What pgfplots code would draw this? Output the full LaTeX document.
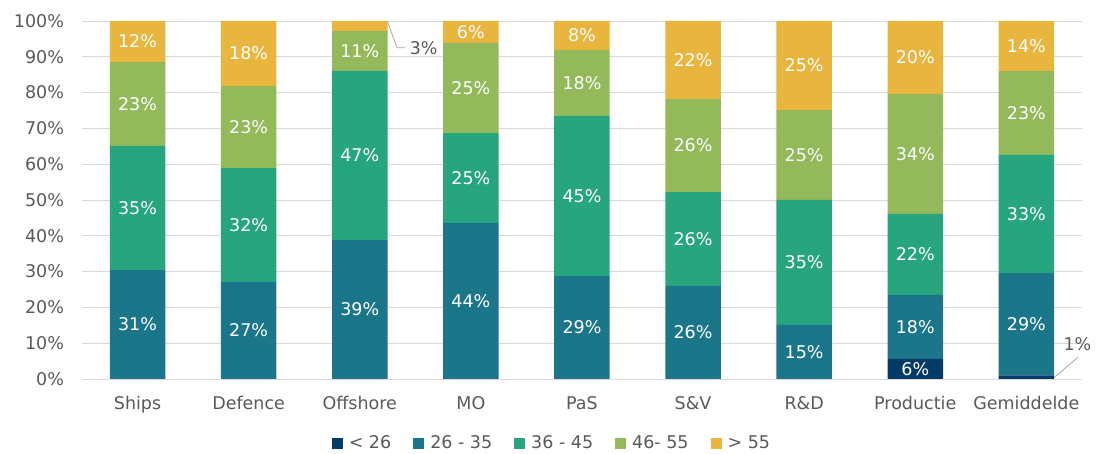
\documentclass[border=0pt]{standalone}
\usepackage{fontspec}
\setmainfont{DejaVu Sans}
\usepackage{pgfplots}
\pgfplotsset{compat=1.18}
\definecolor{cA}{HTML}{043A66}
\definecolor{cB}{HTML}{1B7689}
\definecolor{cC}{HTML}{27A57F}
\definecolor{cD}{HTML}{94B95B}
\definecolor{cE}{HTML}{E8B53E}
\definecolor{txt}{HTML}{595959}
\definecolor{grd}{HTML}{D9D9D9}
\definecolor{lead}{HTML}{A6A6A6}
\begin{document}
\fontsize{17.5}{21}\selectfont
\begin{tikzpicture}[x=1pt,y=1pt]
\useasboundingbox (0,0) rectangle (1097,454);
\pgfplotsset{
  base/.style={
    at={(82pt,75pt)}, anchor=south west,
    scale only axis, width=1000pt, height=358pt,
    xmin=-0.5, xmax=8.5, ymin=0, ymax=100,
    axis line style={draw=none},
    major tick length=0pt,
  }
}
\begin{axis}[base,
  ybar stacked, bar width=55.5pt,
  ymajorgrids, grid style={grd, line width=0.9pt},
  ytick={0,10,...,100},
  yticklabel={\pgfmathprintnumber{\tick}\%},
  xtick={0,...,8},
  xticklabels={Ships,Defence,Offshore,MO,PaS,S\&V,R\&D,Productie,Gemiddelde},
  tick label style={text=txt},
  yticklabel style={xshift=-12pt},
  xticklabel style={yshift=-11pt},
  /pgf/number format/assume math mode=true,
  legend style={at={(0.47,-0.179)}, anchor=center, legend columns=5, draw=none, fill=none, text=txt,
    /tikz/every odd column/.append style={column sep=4pt},
    /tikz/every even column/.append style={column sep=20pt}},
  legend image code/.code={\fill[#1] (0pt,-5.5pt) rectangle (11pt,5.5pt);},
]
\addplot[fill=cA, draw=none] coordinates {(0,0) (1,0) (2,0) (3,0) (4,0) (5,0) (6,0) (7,5.6) (8,1.0)};
\addplot[fill=cB, draw=none] coordinates {(0,30.4) (1,27.1) (2,38.8) (3,43.6) (4,28.8) (5,26.0) (6,15.1) (7,17.9) (8,28.6)};
\addplot[fill=cC, draw=none] coordinates {(0,34.7) (1,31.8) (2,47.3) (3,25.1) (4,44.7) (5,26.2) (6,34.9) (7,22.6) (8,33.0)};
\addplot[fill=cD, draw=none] coordinates {(0,23.4) (1,22.9) (2,11.1) (3,25.2) (4,18.4) (5,26.0) (6,25.1) (7,33.5) (8,23.4)};
\addplot[fill=cE, draw=none] coordinates {(0,11.5) (1,18.2) (2,2.8) (3,6.1) (4,8.1) (5,21.8) (6,24.9) (7,20.4) (8,14.0)};
\legend{< 26,26 - 35,36 - 45,46- 55,> 55}
\end{axis}
\begin{axis}[base, hide axis, clip=false]
\addplot[draw=none, mark=none, point meta=explicit symbolic, nodes near coords,
  every node near coord/.append style={anchor=center, text=white}] coordinates {
 (0,15.2) [31\%] (0,47.75) [35\%] (0,76.8) [23\%] (0,94.25) [12\%]
 (1,13.55) [27\%] (1,43.0) [32\%] (1,70.35) [23\%] (1,90.9) [18\%]
 (2,19.4) [39\%] (2,62.45) [47\%] (2,91.65) [11\%]
 (3,21.8) [44\%] (3,56.15) [25\%] (3,81.3) [25\%] (3,96.95) [6\%]
 (4,14.4) [29\%] (4,51.15) [45\%] (4,82.7) [18\%] (4,95.95) [8\%]
 (5,13.0) [26\%] (5,39.1) [26\%] (5,65.2) [26\%] (5,89.1) [22\%]
 (6,7.55) [15\%] (6,32.55) [35\%] (6,62.55) [25\%] (6,87.55) [25\%]
 (7,2.8) [6\%] (7,14.55) [18\%] (7,34.8) [22\%] (7,62.85) [34\%] (7,89.8) [20\%]
 (8,15.3) [29\%] (8,46.1) [33\%] (8,74.3) [23\%] (8,93.0) [14\%]
};
\draw[lead, line width=0.8pt] (axis cs:2.25,99.8) -- (axis cs:2.336,92.5) -- (axis cs:2.408,92.5);
\node[text=txt, anchor=west, inner sep=1pt] at (axis cs:2.44,92.5) {3\%};
\draw[lead, line width=0.8pt] (axis cs:8.25,0.4) -- (axis cs:8.465,6.1);
\node[text=txt, inner sep=1pt] at (axis cs:8.46,9.8) {1\%};
\end{axis}
\end{tikzpicture}
\end{document}
